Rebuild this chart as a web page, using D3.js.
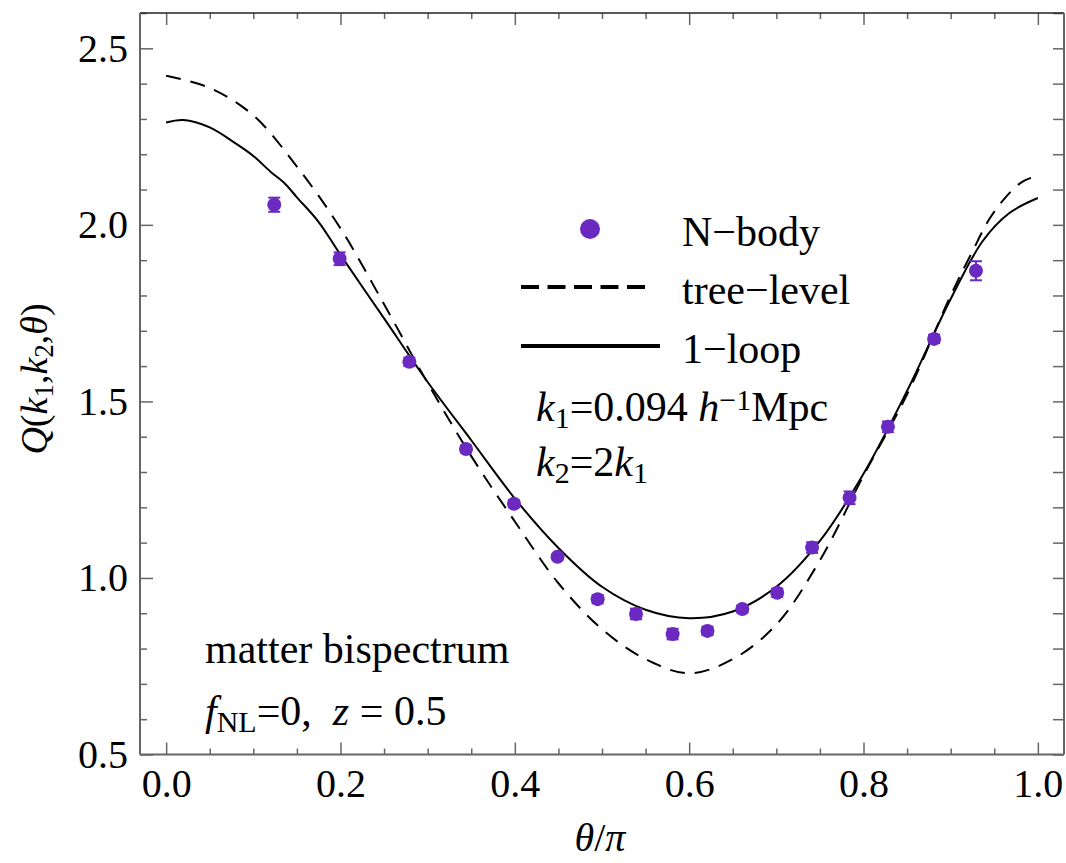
<!DOCTYPE html>
<html>
<head>
<meta charset="utf-8">
<script src="https://cdn.jsdelivr.net/npm/d3@7"></script>
<style>
  body { margin: 0; background: #fff; }
  svg { display: block; font-family: 'Liberation Serif', 'Times New Roman', serif; }
</style>
</head>
<body>
<div id="chart"></div>
<script>
// N-body measurements: theta/pi, Q, error
const nbodyX = [0.124, 0.199, 0.279, 0.344, 0.399, 0.449, 0.495, 0.539, 0.581, 0.621, 0.661, 0.701, 0.741, 0.784, 0.828, 0.881, 0.929];
const nbodyQ = [2.057, 1.904, 1.612, 1.365, 1.210, 1.060, 0.940, 0.898, 0.841, 0.850, 0.912, 0.958, 1.086, 1.227, 1.428, 1.677, 1.870];
const nbodyErr = [0.02, 0.018, 0.012, 0.01, 0.01, 0.008, 0.012, 0.015, 0.015, 0.012, 0.01, 0.012, 0.015, 0.018, 0.015, 0.012, 0.027];

// tree-level prediction (dashed)
const treeX = [0, 0.05, 0.10, 0.15, 0.20, 0.25, 0.30, 0.35, 0.40, 0.45, 0.50, 0.55, 0.60, 0.65, 0.70, 0.75, 0.80, 0.85, 0.90, 0.925, 0.944, 0.963, 0.982, 1.0];
const treeQ = [2.422, 2.388, 2.310, 2.165, 1.990, 1.775, 1.552, 1.345, 1.160, 0.985, 0.855, 0.770, 0.730, 0.770, 0.868, 1.050, 1.290, 1.520, 1.800, 1.925, 2.015, 2.078, 2.122, 2.139];

// 1-loop prediction (solid)
const loopX = [0, 0.02, 0.05, 0.08, 0.10, 0.12, 0.135, 0.15, 0.175, 0.20, 0.25, 0.30, 0.35, 0.40, 0.45, 0.50, 0.55, 0.60, 0.65, 0.70, 0.75, 0.80, 0.85, 0.90, 0.937, 0.967, 1.0];
const loopQ = [2.290, 2.297, 2.276, 2.230, 2.195, 2.150, 2.120, 2.078, 2.008, 1.915, 1.735, 1.555, 1.390, 1.225, 1.085, 0.975, 0.910, 0.886, 0.905, 0.975, 1.105, 1.295, 1.530, 1.790, 1.955, 2.033, 2.076];

const xMajor = [0, 0.2, 0.4, 0.6, 0.8, 1.0];
const yMajor = [0.5, 1.0, 1.5, 2.0, 2.5];

const W = 1066, H = 863;
const plot = { left: 140, right: 1064, top: 13, bottom: 754.5 };
const purple = '#6a29c1';
const frameColor = '#666';

const svg = d3.select('#chart').append('svg')
    .attr('width', W).attr('height', H);

const x = d3.scaleLinear().domain([-0.03, 1.03]).range([plot.left, plot.right]);
const y = d3.scaleLinear().domain([0.5, 2.6]).range([plot.bottom, plot.top]);

const xMinor = d3.range(0, 1.0001, 0.05).map(v => +v.toFixed(2)).filter(v => !xMajor.includes(v));
const yMinor = d3.range(0.5, 2.6001, 0.1).map(v => +v.toFixed(1)).filter(v => !yMajor.includes(v));

function styleAxis(g) {
    g.select('.domain').remove();
    g.selectAll('line').attr('stroke', frameColor).attr('stroke-width', 1.5);
    g.selectAll('text').attr('fill', '#000').style('font-size', '40px')
        .style('font-family', "'Liberation Serif', serif");
}

// bottom
svg.append('g').attr('transform', `translate(0,${plot.bottom})`)
    .call(d3.axisBottom(x).tickValues(xMajor).tickSizeInner(-12).tickSizeOuter(0).tickPadding(14).tickFormat(d3.format('.1f')))
    .call(styleAxis);
svg.append('g').attr('transform', `translate(0,${plot.bottom})`)
    .call(d3.axisBottom(x).tickValues(xMinor).tickSizeInner(-6).tickSizeOuter(0).tickFormat(''))
    .call(styleAxis);
// top
svg.append('g').attr('transform', `translate(0,${plot.top})`)
    .call(d3.axisTop(x).tickValues(xMajor).tickSizeInner(-12).tickSizeOuter(0).tickFormat(''))
    .call(styleAxis);
svg.append('g').attr('transform', `translate(0,${plot.top})`)
    .call(d3.axisTop(x).tickValues(xMinor).tickSizeInner(-6).tickSizeOuter(0).tickFormat(''))
    .call(styleAxis);
// left
svg.append('g').attr('transform', `translate(${plot.left},0)`)
    .call(d3.axisLeft(y).tickValues(yMajor).tickSizeInner(-13).tickSizeOuter(0).tickPadding(12).tickFormat(d3.format('.1f')))
    .call(styleAxis);
svg.append('g').attr('transform', `translate(${plot.left},0)`)
    .call(d3.axisLeft(y).tickValues(yMinor).tickSizeInner(-7).tickSizeOuter(0).tickFormat(''))
    .call(styleAxis);
// right
svg.append('g').attr('transform', `translate(${plot.right},0)`)
    .call(d3.axisRight(y).tickValues(yMajor.concat(yMinor)).tickSizeInner(-11).tickSizeOuter(0).tickFormat(''))
    .call(styleAxis);

// frame
svg.append('line').attr('x1', plot.left).attr('x2', plot.right).attr('y1', plot.top).attr('y2', plot.top)
    .attr('stroke', '#222').attr('stroke-width', 1.5);
svg.append('line').attr('x1', plot.left).attr('x2', plot.right).attr('y1', plot.bottom).attr('y2', plot.bottom)
    .attr('stroke', frameColor).attr('stroke-width', 2);
svg.append('line').attr('x1', plot.left).attr('x2', plot.left).attr('y1', plot.top).attr('y2', plot.bottom)
    .attr('stroke', frameColor).attr('stroke-width', 2);
svg.append('line').attr('x1', plot.right).attr('x2', plot.right).attr('y1', plot.top).attr('y2', plot.bottom)
    .attr('stroke', frameColor).attr('stroke-width', 2);

// curves
const line = d3.line().x(d => x(d[0])).y(d => y(d[1])).curve(d3.curveCatmullRom);
const treeData = d3.zip(treeX, treeQ);
const loopData = d3.zip(loopX, loopQ);

svg.append('path').datum(treeData).attr('d', line)
    .attr('fill', 'none').attr('stroke', '#000').attr('stroke-width', 2)
    .attr('stroke-dasharray', '15,10');
svg.append('path').datum(loopData).attr('d', line)
    .attr('fill', 'none').attr('stroke', '#000').attr('stroke-width', 2);

// N-body points with error bars
const pts = nbodyX.map((v, i) => ({ x: v, q: nbodyQ[i], e: nbodyErr[i] }));
const pg = svg.append('g').attr('class', 'points');
const pt = pg.selectAll('g').data(pts).join('g');
pt.append('line')
    .attr('x1', d => x(d.x)).attr('x2', d => x(d.x))
    .attr('y1', d => y(d.q - d.e)).attr('y2', d => y(d.q + d.e))
    .attr('stroke', purple).attr('stroke-width', 2);
[-1, 1].forEach(s => {
    pt.append('line')
        .attr('x1', d => x(d.x) - 6).attr('x2', d => x(d.x) + 6)
        .attr('y1', d => y(d.q + s * d.e)).attr('y2', d => y(d.q + s * d.e))
        .attr('stroke', purple).attr('stroke-width', 2);
});
pt.append('circle')
    .attr('cx', d => x(d.x)).attr('cy', d => y(d.q)).attr('r', 7)
    .attr('fill', purple);

// legend
const lg = svg.append('g').style('font-size', '42px');
lg.append('circle').attr('cx', 590).attr('cy', 229).attr('r', 10).attr('fill', purple);
lg.append('line').attr('x1', 521).attr('x2', 652).attr('y1', 287).attr('y2', 287)
    .attr('stroke', '#000').attr('stroke-width', 4).attr('stroke-dasharray', '18,8.5');
lg.append('line').attr('x1', 521).attr('x2', 660).attr('y1', 346).attr('y2', 346)
    .attr('stroke', '#000').attr('stroke-width', 4);
lg.append('text').attr('x', 682).attr('y', 246).text('N\u2212body');
lg.append('text').attr('x', 682).attr('y', 304).text('tree\u2212level');
lg.append('text').attr('x', 682).attr('y', 363).text('1\u2212loop');

// annotations
function sub(t, s, size) {
    t.append('tspan').attr('baseline-shift', '-22%').style('font-size', size).text(s);
}
const ann = svg.append('g').style('font-size', '42px');
let t = ann.append('text').attr('x', 536).attr('y', 421);
t.append('tspan').style('font-style', 'italic').text('k');
sub(t, '1', '30px');
t.append('tspan').text('=0.094 ');
t.append('tspan').style('font-style', 'italic').text('h');
t.append('tspan').attr('baseline-shift', '38%').style('font-size', '30px').text('\u22121');
t.append('tspan').text('Mpc');

t = ann.append('text').attr('x', 536).attr('y', 476);
t.append('tspan').style('font-style', 'italic').text('k');
sub(t, '2', '30px');
t.append('tspan').text('=2');
t.append('tspan').style('font-style', 'italic').text('k');
sub(t, '1', '30px');

ann.append('text').attr('x', 205).attr('y', 663).text('matter bispectrum');
t = ann.append('text').attr('x', 205).attr('y', 725);
t.append('tspan').style('font-style', 'italic').text('f');
sub(t, 'NL', '30px');
t.append('tspan').text('=0,\u2002');
t.append('tspan').style('font-style', 'italic').text('z');
t.append('tspan').text(' = 0.5');

// axis titles
t = svg.append('text').attr('transform', 'translate(47,379) rotate(-90)')
    .attr('text-anchor', 'middle').style('font-size', '38px');
t.append('tspan').style('font-style', 'italic').text('Q');
t.append('tspan').text('(');
t.append('tspan').style('font-style', 'italic').text('k');
sub(t, '1', '27px');
t.append('tspan').text(',');
t.append('tspan').style('font-style', 'italic').text('k');
sub(t, '2', '27px');
t.append('tspan').text(',');
t.append('tspan').style('font-style', 'italic').text('\u03b8');
t.append('tspan').text(')');

t = svg.append('text').attr('x', 600).attr('y', 851)
    .attr('text-anchor', 'middle').style('font-size', '40px');
t.append('tspan').style('font-style', 'italic').text('\u03b8');
t.append('tspan').text('/');
t.append('tspan').style('font-style', 'italic').text('\u03c0');
</script>
</body>
</html>
